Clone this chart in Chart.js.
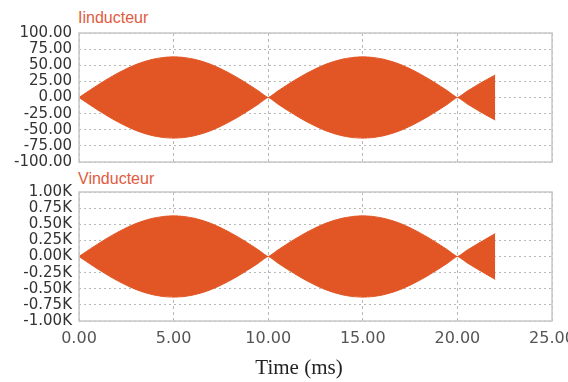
<!DOCTYPE html>
<html>
<head>
<meta charset="utf-8">
<script src="https://cdn.jsdelivr.net/npm/chart.js@4"></script>
<style>
  html, body { margin:0; padding:0; background:#fff; }
  body { width:568px; height:382px; position:relative; overflow:hidden; }
  canvas { position:absolute; left:0; }
  .ttl { position:absolute; font-family:"Liberation Sans", Arial, sans-serif; font-size:16px; line-height:16px; color:#e25a40; white-space:nowrap; }
  .xt { position:absolute; font-family:"Liberation Serif", "Times New Roman", serif; font-size:21px; line-height:20px; color:#222; text-align:center; width:200px; white-space:nowrap; }
</style>
</head>
<body>
<div class="ttl" style="left:78px; top:10px;">Iinducteur</div>
<div class="ttl" style="left:78px; top:171px;">Vinducteur</div>
<canvas id="c1" width="568" height="170" style="top:0px"></canvas>
<canvas id="c2" width="568" height="212" style="top:170px"></canvas>
<div class="xt" style="left:199px; top:357px;">Time (ms)</div>
<script>
// Time samples (ms)
const timeMs = [0,0.5,1,1.5,2,2.5,3,3.5,4,4.5,5,5.5,6,6.5,7,7.5,8,8.5,9,9.5,10,
  10.5,11,11.5,12,12.5,13,13.5,14,14.5,15,15.5,16,16.5,17,17.5,18,18.5,19,19.5,20,
  20.5,21,21.5,22];
// Envelope (peak) of Iinducteur
const iEnvelope = [0,9.9,19.5,28.6,37.0,44.5,51.0,56.1,59.9,62.2,63,62.2,59.9,56.1,51.0,44.5,37.0,28.6,19.5,9.9,0,
  9.9,19.5,28.6,37.0,44.5,51.0,56.1,59.9,62.2,63,62.2,59.9,56.1,51.0,44.5,37.0,28.6,19.5,9.9,0,
  9.5,18.5,27,35];
// Envelope (peak) of Vinducteur in volts
const vEnvelope = [0,99,195,286,370,445,510,561,599,622,630,622,599,561,510,445,370,286,195,99,0,
  99,195,286,370,445,510,561,599,622,630,622,599,561,510,445,370,286,195,99,0,
  95,185,270,355];
const xTicks = [0,5,10,15,20,25];
const iTicks = [-100,-75,-50,-25,0,25,50,75,100];
const vTicks = [-1000,-750,-500,-250,0,250,500,750,1000];

const FILL = 'rgb(226,86,38)';
const GRID = '#b8b8b8';
const FRAME = '#c8c8c8';

const framePlugin = {
  id: 'frame',
  afterDatasetsDraw(chart) {
    const a = chart.chartArea, ctx = chart.ctx;
    ctx.save();
    ctx.strokeStyle = FRAME;
    ctx.lineWidth = 1.5;
    ctx.strokeRect(a.left, a.top, a.right - a.left, a.bottom - a.top);
    ctx.restore();
  }
};

function pts(vals, sign) {
  return timeMs.map((t, i) => ({x: t, y: sign * vals[i]}));
}

function makeChart(id, vals, yTicks, yFmt, showX, pad, xHeight) {
  return new Chart(document.getElementById(id), {
    type: 'line',
    data: {
      datasets: [
        { data: pts(vals, 1), fill: '+1', backgroundColor: FILL, borderColor: FILL, borderWidth: 1, pointRadius: 0, tension: 0.15 },
        { data: pts(vals, -1), fill: false, backgroundColor: FILL, borderColor: FILL, borderWidth: 1, pointRadius: 0, tension: 0.15 }
      ]
    },
    options: {
      responsive: false,
      animation: false,
      devicePixelRatio: 1,
      layout: { padding: pad },
      plugins: { legend: { display: false }, tooltip: { enabled: false } },
      scales: {
        x: {
          type: 'linear', min: 0, max: 25,
          afterBuildTicks: s => { s.ticks = xTicks.map(v => ({value: v})); },
          afterFit: s => { s.height = xHeight; s.paddingLeft = 0; s.paddingRight = 0; },
          grid: { color: GRID, lineWidth: 1, drawTicks: false },
          border: { display: false, dash: [3, 3] },
          ticks: {
            display: showX, padding: 8, color: '#555',
            font: { family: 'DejaVu Sans', size: 16 },
            callback: v => Number(v).toFixed(2)
          }
        },
        y: {
          type: 'linear', min: yTicks[0], max: yTicks[yTicks.length - 1],
          afterBuildTicks: s => { s.ticks = yTicks.map(v => ({value: v})); },
          afterFit: s => { s.width = 79; s.paddingTop = 0; s.paddingBottom = 0; },
          grid: { color: GRID, lineWidth: 1, drawTicks: false },
          border: { display: false, dash: [2, 3] },
          ticks: {
            autoSkip: false, padding: 7, color: '#333',
            font: { family: 'DejaVu Sans', size: 15 },
            callback: yFmt
          }
        }
      }
    },
    plugins: [framePlugin]
  });
}

makeChart('c1', iEnvelope, iTicks, v => Number(v).toFixed(2), false,
  {top: 33, right: 16, bottom: 8, left: 0}, 0);
makeChart('c2', vEnvelope, vTicks, v => (v / 1000).toFixed(2) + 'K', true,
  {top: 22, right: 16, bottom: 0, left: 0}, 61);
</script>
</body>
</html>
